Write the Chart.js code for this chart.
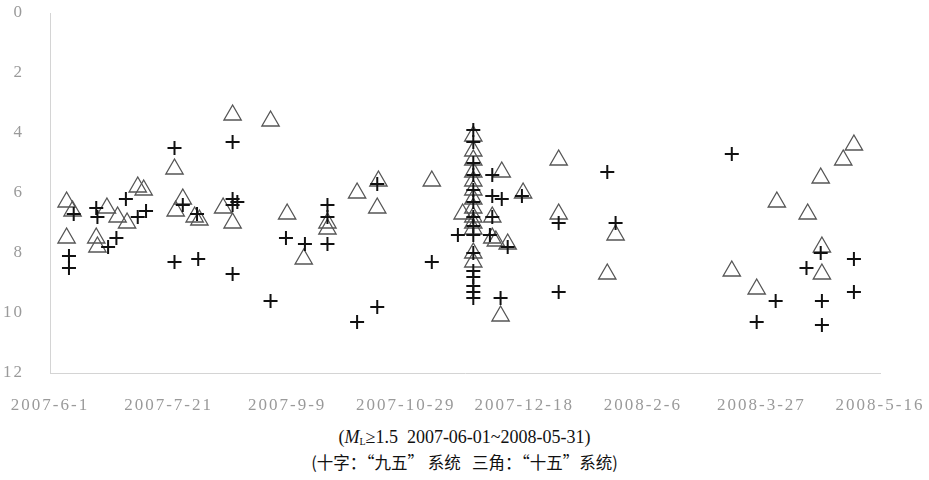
<!DOCTYPE html>
<html>
<head>
<meta charset="utf-8">
<script src="https://cdn.jsdelivr.net/npm/chart.js@4.4.1/dist/chart.umd.min.js"></script>
<style>
    body { margin: 0; background: #fff; width: 929px; height: 480px; overflow: hidden; }
    #wrap { position: absolute; left: 0; top: 0; width: 929px; height: 412px; }
    .cap { position: absolute; left: 0; width: 929px; text-align: center; color: #111; }
    #cap1 { top: 427px; font: 18px "Liberation Serif", "DejaVu Serif", serif; }
    #cap2 { top: 450px; font: 16.5px "Noto Sans CJK SC", sans-serif; }
    sub { font-size: 10px; vertical-align: -2px; }
</style>
</head>
<body>
<div id="wrap"><canvas id="depthChart" width="929" height="412"></canvas></div>
<div class="cap" id="cap1">(<i>M</i><sub>L</sub>≥1.5&nbsp;&nbsp;2007-06-01~2008-05-31)</div>
<div class="cap" id="cap2">(十字：“九五” 系统&nbsp;&nbsp;&nbsp;三角：“十五”系统)</div>
<script>
// days counted from 2007-06-01, depth in km
const tickLabels = ['2007-6-1', '2007-7-21', '2007-9-9', '2007-10-29', '2007-12-18', '2008-2-6', '2008-3-27', '2008-5-16'];

// ─── "九五" system (crosses) ─────────────────────────────────────────────────
const crossDays = [
    8, 8, 10, 19.5, 20, 24.5, 28, 32, 37, 40.5,
    52.5, 52.5, 56, 62, 62.5, 77, 77, 79, 77, 77,
    93, 99.5, 107.5, 117, 117, 117, 129.5, 138, 138, 161, 172,
    178.5, 178.5, 178.5, 178.5, 178.5, 178.5, 178.5, 178.5, 178.5, 178.5, 178.5, 178.5, 178.5, 178.5, 178.5,
    186.5, 186.5, 190.5, 185.5, 186.5, 193, 190, 199,
    214.5, 214.5, 235, 238.5, 287.5, 298, 306, 319, 325, 325.5, 325.5, 339, 339
];
const crossDepths = [
    8.1, 8.5, 6.7, 6.5, 6.8, 7.8, 7.5, 6.2, 6.8, 6.6,
    4.5, 8.3, 6.4, 6.7, 8.2, 4.3, 6.2, 6.3, 6.4, 8.7,
    9.6, 7.5, 7.7, 6.4, 6.8, 7.7, 10.3, 9.8, 5.7, 8.3, 7.4,
    3.9, 4.3, 5.0, 5.4, 5.9, 6.3, 6.8, 7.1, 7.4, 8.0, 8.6, 8.8, 9.1, 9.3, 9.5,
    5.4, 6.1, 6.2, 7.4, 6.8, 7.8, 9.5, 6.1,
    7.0, 9.3, 5.3, 7.0, 4.7, 10.3, 9.6, 8.5, 8.0, 9.6, 10.4, 8.2, 9.3
];

// ─── "十五" system (triangles) ───────────────────────────────────────────────
const triDays = [
    7, 9.5, 7, 19.5, 20, 24, 28.5, 32.5, 37, 39.5,
    52.5, 56, 53, 61, 63, 77, 93, 73, 77, 100,
    107, 117, 117, 129.5, 138.5, 138, 161,
    178.5, 178.5, 178.5, 178.5, 178.5, 178.5, 178.5, 178.5, 178.5, 178.5, 178.5, 178.5, 178.5,
    174, 190.5, 199.5, 186.5, 186.5, 188, 193, 190,
    214.5, 214.5, 238.5, 235, 287.5, 298, 306.5, 319.5, 325, 325.5, 325.5, 334.5, 339
];
const triDepths = [
    6.3, 6.6, 7.5, 7.5, 7.8, 6.5, 6.8, 7.0, 5.8, 5.9,
    5.2, 6.2, 6.6, 6.8, 6.9, 3.4, 3.6, 6.5, 7.0, 6.7,
    8.2, 7.0, 7.2, 6.0, 5.6, 6.5, 5.6,
    4.1, 4.6, 4.9, 5.3, 5.6, 5.9, 6.2, 6.5, 6.8, 7.0, 7.2, 8.0, 8.3,
    6.7, 5.3, 6.0, 6.8, 7.5, 7.6, 7.7, 10.1,
    4.9, 6.7, 7.4, 8.7, 8.6, 9.2, 6.3, 6.7, 5.5, 7.8, 8.7, 4.9, 4.4
];

const toPoints = (xs, ys) => xs.map((x, i) => ({ x: x, y: ys[i] }));

// letter spacing for the light axis labels
const spacing = {
    id: 'spacing',
    beforeUpdate(chart) { chart.ctx.letterSpacing = '2px'; },
    beforeDraw(chart) { chart.ctx.letterSpacing = '2px'; }
};

const tickFont = { family: '"Liberation Serif", "DejaVu Serif", serif', size: 17 };

new Chart(document.getElementById('depthChart'), {
    type: 'scatter',
    data: {
        datasets: [{
            label: '九五',
            data: toPoints(crossDays, crossDepths),
            pointStyle: 'cross',
            radius: 7,
            borderColor: '#111',
            borderWidth: 2
        }, {
            label: '十五',
            data: toPoints(triDays, triDepths),
            pointStyle: 'triangle',
            radius: 10,
            borderColor: '#555',
            backgroundColor: 'rgba(0,0,0,0)',
            borderWidth: 1.3
        }]
    },
    options: {
        responsive: false,
        animation: false,
        layout: { autoPadding: false, padding: { top: 13, right: 49, left: 0, bottom: 0 } },
        plugins: { legend: { display: false }, tooltip: { enabled: false } },
        scales: {
            x: {
                type: 'linear',
                min: 0,
                max: 350,
                afterFit: s => { s.height = 39; s.paddingLeft = 0; s.paddingRight = 0; },
                grid: { display: false },
                border: { display: true, color: '#d4d4d4', dash: [1, 2], width: 1 },
                ticks: {
                    stepSize: 50,
                    padding: 14,
                    color: '#9a9a9a',
                    font: tickFont,
                    maxRotation: 0,
                    callback: (v) => tickLabels[Math.round(v / 50)]
                }
            },
            y: {
                reverse: true,
                min: 0,
                max: 12,
                afterFit: s => { s.width = 50; s.paddingTop = 0; s.paddingBottom = 0; },
                grid: { display: false },
                border: { display: true, color: '#d4d4d4', dash: [1, 2], width: 1 },
                ticks: { stepSize: 2, padding: 18, color: '#9a9a9a', font: tickFont }
            }
        }
    },
    plugins: [spacing]
});
</script>
</body>
</html>
